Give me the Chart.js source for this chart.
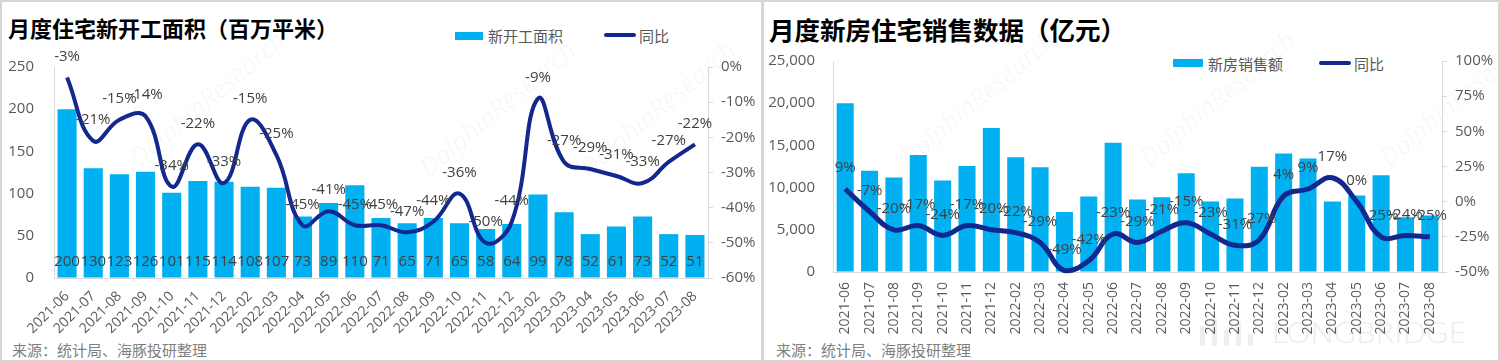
<!DOCTYPE html>
<html><head><meta charset="utf-8">
<script src="https://cdn.jsdelivr.net/npm/chart.js@4.4.0/dist/chart.umd.min.js"></script>
<style>
html,body{margin:0;padding:0;background:#fff;}
body{width:1500px;height:362px;position:relative;overflow:hidden;font-family:"Noto Sans CJK SC","Open Sans",sans-serif;}
.frame{position:absolute;left:0;top:0;width:1496px;height:358px;border:2px solid #d6d6d6;}
.sep{position:absolute;left:761px;top:0;width:3px;height:362px;background:#d6d6d6;}
.title{position:absolute;font-weight:bold;color:#000;white-space:nowrap;line-height:1;}
.leg{position:absolute;font-size:15px;color:#595959;white-space:nowrap;line-height:1;}
.sw{position:absolute;background:#00B0F0;}
.ln{position:absolute;background:#13288F;height:4px;border-radius:2px;}
.src{position:absolute;font-size:15px;color:#7f7f7f;white-space:nowrap;line-height:1;}
.wm{position:absolute;color:rgba(0,0,0,0.035);font-family:"Open Sans",sans-serif;font-style:italic;font-size:26px;transform:rotate(-40deg);white-space:nowrap;}
.lb{position:absolute;left:1272px;top:316px;font-family:Lato,sans-serif;font-weight:300;font-size:30px;color:#ececec;letter-spacing:0.5px;line-height:1;}
.lbar{position:absolute;background:#eeeeee;width:5px;}
canvas{position:absolute;top:0;}
</style>
</head><body>
<div class="frame"></div>
<div class="sep"></div>
<div class="wm" style="left:110px;top:80px;">DolphinResearch</div>
<div class="wm" style="left:400px;top:90px;">DolphinResearch</div>
<div class="wm" style="left:560px;top:90px;">DolphinResearch</div>
<div class="wm" style="left:880px;top:80px;">DolphinResearch</div>
<div class="wm" style="left:1120px;top:80px;">DolphinResearch</div>
<div class="wm" style="left:1360px;top:80px;">DolphinResearch</div>
<div class="lbar" style="left:1200px;top:326px;height:20px;"></div>
<div class="lbar" style="left:1212px;top:318px;height:28px;"></div>
<div class="lbar" style="left:1224px;top:330px;height:16px;"></div>
<div class="lbar" style="left:1236px;top:322px;height:24px;"></div>
<div class="lbar" style="left:1248px;top:334px;height:12px;"></div>
<div class="lb">LONGBRIDGE</div>

<div class="title" style="left:8px;top:16px;font-size:22px;">月度住宅新开工面积（百万平米）</div>
<div class="sw" style="left:455px;top:32px;width:28px;height:8px;"></div>
<div class="leg" style="left:488px;top:28px;">新开工面积</div>
<div class="ln" style="left:604px;top:33px;width:32px;"></div>
<div class="leg" style="left:639px;top:28px;">同比</div>
<div class="src" style="left:12px;top:342px;">来源：统计局、海豚投研整理</div>

<div class="title" style="left:769px;top:16px;font-size:25.5px;">月度新房住宅销售数据（亿元）</div>
<div class="sw" style="left:1173px;top:59px;width:30px;height:8px;"></div>
<div class="leg" style="left:1208px;top:56px;">新房销售额</div>
<div class="ln" style="left:1319px;top:61px;width:32px;"></div>
<div class="leg" style="left:1354px;top:56px;">同比</div>
<div class="src" style="left:776px;top:342px;">来源：统计局、海豚投研整理</div>

<canvas id="c1" width="760" height="362" style="left:0;width:760px;height:362px;"></canvas>
<canvas id="c2" width="736" height="362" style="left:764px;width:736px;height:362px;"></canvas>

<script>
const months = ["2021-06","2021-07","2021-08","2021-09","2021-10","2021-11","2021-12",
  "2022-02","2022-03","2022-04","2022-05","2022-06","2022-07","2022-08","2022-09","2022-10","2022-11","2022-12",
  "2023-02","2023-03","2023-04","2023-05","2023-06","2023-07","2023-08"];
const startArea = [200,130,123,126,101,115,114,108,107,73,89,110,71,65,71,65,58,64,99,78,52,61,73,52,51];
const startYoY = [-3,-21,-15,-14,-34,-22,-33,-15,-25,-45,-41,-45,-45,-47,-44,-36,-50,-44,-9,-27,-29,-31,-33,-27,-22];
const salesAmt = [20000,12000,11200,13850,10850,12550,17050,13600,12400,7100,8950,15300,8600,8870,11700,8360,8720,12460,14050,13450,8360,9070,11450,6500,6700];
const salesYoY = [9,-7,-20,-17,-24,-17,-20,-22,-29,-49,-42,-23,-29,-21,-15,-23,-31,-27,4,9,17,0,-25,-24,-25];

const BAR = '#00B0F0', LINE = '#13288F', AX = '#d9d9d9', TXT = '#595959';
const FONT = '"Open Sans","Noto Sans CJK SC",sans-serif';

function labelPlugin(barLabels) {
  return {
    id: 'lbls',
    afterDatasetsDraw(chart) {
      const ctx = chart.ctx;
      ctx.save();
      ctx.font = '15px ' + FONT;
      ctx.fillStyle = '#404040';
      ctx.textAlign = 'center';
      ctx.textBaseline = 'middle';
      if (barLabels) {
        const bm = chart.getDatasetMeta(0);
        bm.data.forEach((el, i) => ctx.fillText(String(chart.data.datasets[0].data[i]), el.x, el.base - 16));
      }
      const lm = chart.getDatasetMeta(1);
      lm.data.forEach((pt, i) => ctx.fillText(chart.data.datasets[1].data[i] + '%', pt.x, pt.y - 21));
      ctx.restore();
    }
  };
}

function makeChart(id, cfg) {
  const ticksFont = {family: FONT, size: 15};
  return new Chart(document.getElementById(id), {
    data: {
      labels: months,
      datasets: [
        {type: 'bar', data: cfg.bars, backgroundColor: BAR, yAxisID: 'y', order: 2,
         categoryPercentage: 1, barPercentage: cfg.barPct},
        {type: 'line', data: cfg.yoy, borderColor: LINE, borderWidth: cfg.lw2, pointRadius: 0,
         tension: 0.42, yAxisID: 'y1', order: 1, clip: false, fill: false}
      ]
    },
    options: {
      responsive: false, animation: false, devicePixelRatio: 1,
      layout: {padding: {top: cfg.top, left: 0, right: 0, bottom: 0}},
      plugins: {legend: {display: false}, tooltip: {enabled: false}},
      scales: {
        x: {
          offset: true,
          grid: {display: false},
          border: {display: true, color: AX, width: 1},
          ticks: {color: TXT, font: {family: FONT, size: 14}, minRotation: cfg.rot, maxRotation: cfg.rot,
                  autoSkip: false, padding: 2},
          afterFit: s => { s.height = cfg.xh; }
        },
        y: {
          position: 'left', min: cfg.yMin, max: cfg.yMax,
          grid: {drawOnChartArea: false, drawTicks: false},
          border: {display: true, color: AX, width: 1},
          ticks: {stepSize: cfg.yStep, color: TXT, font: ticksFont, padding: cfg.lpad,
                  callback: v => cfg.yFmt(v)},
          afterFit: s => { s.width = cfg.lw; }
        },
        y1: {
          position: 'right', min: cfg.y1Min, max: cfg.y1Max,
          grid: {drawOnChartArea: false, drawTicks: true, tickLength: 5, color: AX},
          border: {display: true, color: AX, width: 1},
          ticks: {stepSize: cfg.y1Step, color: TXT, font: ticksFont, padding: cfg.rpad,
                  callback: v => v + '%'},
          afterFit: s => { s.width = cfg.rw; }
        }
      }
    },
    plugins: [labelPlugin(cfg.barLabels)]
  });
}

makeChart('c1', {
  bars: startArea, yoy: startYoY, barPct: 0.73, top: 67, xh: 84, rot: 45, lw2: 4,
  yMin: 0, yMax: 250, yStep: 50, yFmt: v => String(v), lw: 54, lpad: 20,
  y1Min: -60, y1Max: 0, y1Step: 10, rw: 52, rpad: 8, barLabels: true
});
makeChart('c2', {
  bars: salesAmt, yoy: salesYoY, barPct: 0.7, top: 61, xh: 90, rot: 90, lw2: 5,
  yMin: 0, yMax: 25000, yStep: 5000, yFmt: v => v.toLocaleString('en-US'), lw: 69, lpad: 18,
  y1Min: -50, y1Max: 100, y1Step: 25, rw: 58, rpad: 8, barLabels: false
});
</script>
</body></html>
